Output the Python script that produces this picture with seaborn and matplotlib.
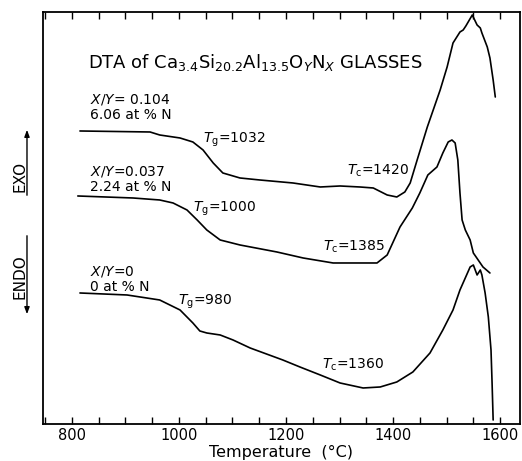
import numpy as np
import pandas as pd
import matplotlib
matplotlib.use("Agg")
import matplotlib.pyplot as plt
from matplotlib.patches import FancyArrowPatch
from matplotlib.ticker import MultipleLocator
import seaborn as sns

# DTA traces (temperature in C, signal in arbitrary units)
t_104 = [815, 946, 964, 1002, 1026, 1045, 1064, 1082, 1114, 1151, 1213, 1264, 1301,
         1338, 1363, 1389, 1407, 1422, 1432, 1445, 1464, 1488, 1501, 1512, 1525,
         1531, 1536, 1548, 1557, 1563, 1566, 1576, 1581, 1587, 1591]
s_104 = [293, 292, 289, 286, 282, 274, 261, 251, 246, 244, 241, 237, 238,
         237, 236, 229, 227, 232, 241, 264, 297, 334, 357, 381, 392,
         394, 398, 409, 399, 396, 391, 377, 366, 344, 327]

t_037 = [811, 914, 964, 989, 1015, 1034, 1052, 1077, 1114, 1183, 1232, 1288, 1370,
         1389, 1413, 1436, 1450, 1465, 1482, 1493, 1503, 1510, 1516, 1521, 1525,
         1529, 1535, 1544, 1550, 1559, 1568, 1581]
s_037 = [228, 226, 224, 221, 214, 204, 194, 184, 179, 172, 166, 161, 161,
         169, 197, 216, 231, 249, 257, 271, 282, 284, 281, 264, 231,
         204, 194, 184, 171, 164, 157, 151]

t_000 = [815, 903, 964, 1002, 1026, 1039, 1052, 1077, 1101, 1133, 1194, 1226, 1264,
         1301, 1344, 1376, 1407, 1437, 1469, 1493, 1512, 1525, 1544, 1550, 1557,
         1563, 1566, 1572, 1578, 1583, 1585, 1587]
s_000 = [131, 129, 124, 114, 101, 93, 91, 89, 84, 76, 64, 57, 49,
         41, 36, 37, 42, 52, 71, 94, 114, 134, 157, 159, 149,
         154, 149, 131, 107, 74, 41, 4]

sns.set_style("ticks")
plt.rcParams['font.family'] = ['DejaVu Sans']
plt.rcParams['mathtext.fontset'] = 'dejavusans'
plt.rcParams['text.color'] = 'black'
plt.rcParams['axes.labelcolor'] = 'black'

fig = plt.figure(figsize=(5.22, 4.61), dpi=100)
ax = fig.add_axes([0.0824, 0.0803, 0.9136, 0.8937])

for t, s in [(t_104, s_104), (t_037, s_037), (t_000, s_000)]:
    df = pd.DataFrame({'T': t, 'S': s})
    sns.lineplot(data=df, x='T', y='S', sort=False, color='black', lw=1.2, ax=ax)

ax.set_xlim(746, 1637)
ax.set_ylim(0, 412)
ax.xaxis.set_major_locator(MultipleLocator(200))
ax.xaxis.set_minor_locator(MultipleLocator(50))
ax.tick_params(axis='x', which='both', direction='in', top=True, bottom=True,
               length=5, width=1, labelsize=10.5, pad=3, colors='black')
ax.set_yticks([])
for sp in ax.spines.values():
    sp.set_linewidth(1.3)
    sp.set_color('black')
ax.set_xlabel('Temperature  (°C)', fontsize=11.5, labelpad=1)
ax.set_ylabel('')

# title inside the plot
ax.text(830, 361, r'DTA of Ca$_{3.4}$Si$_{20.2}$Al$_{13.5}$O$_{Y}$N$_{X}$ GLASSES',
        fontsize=13, ha='left', va='center')

fs = 10
ax.text(834, 324, r'$X/Y$= 0.104', fontsize=fs, ha='left', va='center')
ax.text(834, 309, '6.06 at % N', fontsize=fs, ha='left', va='center')
ax.text(1045, 284, r'$T_{\rm g}$=1032', fontsize=fs, ha='left', va='center')
ax.text(1314, 253, r'$T_{\rm c}$=1420', fontsize=fs, ha='left', va='center')

ax.text(834, 252, r'$X/Y$=0.037', fontsize=fs, ha='left', va='center')
ax.text(834, 237, '2.24 at % N', fontsize=fs, ha='left', va='center')
ax.text(1026, 215, r'$T_{\rm g}$=1000', fontsize=fs, ha='left', va='center')
ax.text(1269, 177, r'$T_{\rm c}$=1385', fontsize=fs, ha='left', va='center')

ax.text(834, 152, r'$X/Y$=0', fontsize=fs, ha='left', va='center')
ax.text(834, 137, '0 at % N', fontsize=fs, ha='left', va='center')
ax.text(998, 122, r'$T_{\rm g}$=980', fontsize=fs, ha='left', va='center')
ax.text(1267, 59, r'$T_{\rm c}$=1360', fontsize=fs, ha='left', va='center')

# EXO / ENDO arrows on the left
fig.text(0.038, 0.617, 'EXO', rotation=90, fontsize=11, ha='center', va='center')
fig.text(0.038, 0.400, 'ENDO', rotation=90, fontsize=11, ha='center', va='center')
fig.patches.append(FancyArrowPatch(
    (0.0517, 0.5705), (0.0517, 0.7245), transform=fig.transFigure,
    arrowstyle='-|>,head_length=4,head_width=1.5', color='black', lw=1))
fig.patches.append(FancyArrowPatch(
    (0.0517, 0.4946), (0.0517, 0.3124), transform=fig.transFigure,
    arrowstyle='-|>,head_length=4,head_width=1.5', color='black', lw=1))

fig.savefig('out.png', dpi=100)
